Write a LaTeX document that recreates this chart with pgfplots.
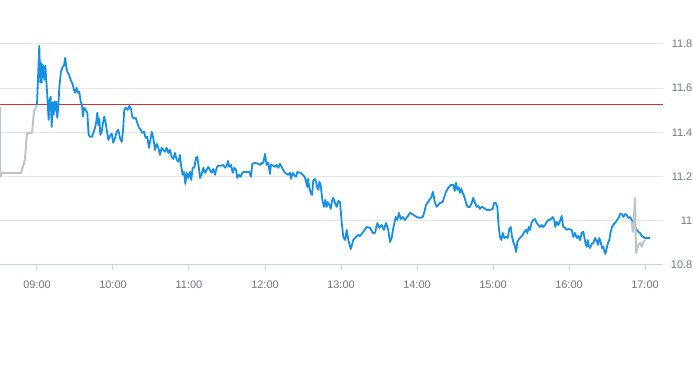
\documentclass[border=0pt]{standalone}
\usepackage{fontspec}
\setmainfont{Liberation Sans}
\usepackage{pgfplots}
\pgfplotsset{compat=1.18}
\definecolor{blueline}{RGB}{22,144,228}
\definecolor{grayline}{RGB}{188,197,204}
\definecolor{gridc}{RGB}{230,230,230}
\definecolor{axisc}{RGB}{204,214,226}
\definecolor{redl}{RGB}{208,52,52}
\definecolor{lab}{RGB}{112,120,132}
\begin{document}
\begin{tikzpicture}
\useasboundingbox (0bp,0bp) rectangle (693bp,365bp);
\begin{axis}[
  at={(0bp,100bp)}, anchor=south west, scale only axis,
  width=663bp, height=243.1bp,
  xmin=-29.2, xmax=494.2, ymin=10.8, ymax=11.9,
  separate axis lines,
  axis x line*=bottom,
  axis y line*=right,
  y axis line style={draw=none},
  x axis line style={draw=axisc, line width=1bp},
  xtick={0,60,120,180,240,300,360,420,480},
  xticklabels={09:00,10:00,11:00,12:00,13:00,14:00,15:00,16:00,17:00},
  xtick style={draw=axisc, line width=1bp},
  tick align=outside, major tick length=5bp,
  ytick={10.8,11,11.2,11.4,11.6,11.8},
  yticklabels={10.8,11,11.2,11.4,11.6,11.8},
  ytick style={draw=none},
  ymajorgrids,
  grid style={draw=gridc, line width=1bp},
  xticklabel style={font=\fontsize{11}{13}\selectfont, text=lab, anchor=north, inner sep=0pt, yshift=-10.5bp},
  yticklabel style={font=\fontsize{11}{13}\selectfont, text=lab, anchor=east, inner sep=0pt, xshift=24.5bp},
]
\addplot[redl, line width=1bp] coordinates {(-29.2,11.528) (494.2,11.528)};
\addplot[grayline, line width=2bp, line join=round] coordinates {
(-29.2,11.516) (-29.0,11.199) (-27.6,11.217) (-12.6,11.217) (-9.5,11.276) (-7.9,11.398) (-3.9,11.398) (-2.4,11.493) (0,11.525)
};
\addplot[blueline, line width=1.8bp, line join=round] coordinates {
(0.0,11.525) (1.8,11.792) (2.6,11.625) (3.2,11.715) (3.7,11.625) (4.2,11.706) (5.0,11.697) (5.8,11.638) (6.6,11.702) (7.3,11.638)
(8.1,11.570) (9.2,11.457) (10.0,11.548) (10.8,11.561) (11.6,11.425) (12.4,11.534) (13.2,11.480) (13.7,11.539) (14.4,11.502) (15.2,11.539)
(16.0,11.466) (16.8,11.516) (17.6,11.602) (18.9,11.674) (20.3,11.697) (21.3,11.702) (22.3,11.738) (23.1,11.697) (23.9,11.674) (25.3,11.661)
(26.6,11.638) (28.2,11.616) (29.2,11.593) (30.2,11.579) (31.3,11.602) (32.4,11.579) (33.4,11.584) (34.5,11.539) (35.5,11.525) (36.3,11.471)
(37.1,11.511) (38.4,11.502) (39.7,11.489) (40.8,11.389) (41.8,11.380) (43.4,11.380) (44.8,11.403) (45.8,11.421) (46.8,11.448) (47.6,11.489)
(48.4,11.434) (49.2,11.462) (50.0,11.389) (51.1,11.403) (52.1,11.443) (53.1,11.471) (54.2,11.443) (55.3,11.403) (56.3,11.366) (57.6,11.385)
(59.0,11.394) (60.2,11.353) (61.6,11.375) (62.9,11.403) (64.2,11.412) (65.5,11.375) (66.9,11.357) (68.1,11.421) (68.9,11.502) (70.3,11.511)
(71.6,11.502) (72.9,11.520) (74.2,11.507) (75.2,11.471) (76.6,11.462) (77.9,11.466) (79.2,11.443) (80.5,11.421) (81.9,11.412) (83.1,11.398)
(84.5,11.403) (85.8,11.375) (87.1,11.380) (88.4,11.330) (89.8,11.375) (90.6,11.403) (91.8,11.375) (93.2,11.321) (94.5,11.348) (95.8,11.330)
(97.1,11.298) (98.4,11.330) (99.7,11.321) (101.1,11.312) (102.4,11.330) (103.7,11.307) (105.0,11.321) (106.3,11.289) (107.6,11.280) (108.9,11.307)
(110.3,11.276) (111.6,11.267) (112.9,11.298) (113.7,11.253) (115.0,11.208) (116.1,11.221) (117.1,11.167) (118.2,11.217) (119.4,11.194) (120.8,11.221)
(121.8,11.185) (122.9,11.240) (124.2,11.240) (125.5,11.285) (126.6,11.289) (127.7,11.244) (128.7,11.194) (130.0,11.212) (131.3,11.240) (132.6,11.217)
(134.0,11.230) (135.2,11.244) (136.6,11.230) (137.9,11.217) (139.2,11.235) (140.5,11.208) (141.9,11.240) (143.1,11.249) (145.8,11.249) (147.1,11.253)
(148.4,11.240) (149.8,11.249) (150.8,11.271) (151.8,11.244) (153.2,11.253) (154.5,11.217) (155.8,11.240) (157.1,11.230) (158.1,11.194) (159.5,11.208)
(160.8,11.199) (162.1,11.217) (163.4,11.221) (167.6,11.221) (168.9,11.199) (170.0,11.258) (172.1,11.262) (174.7,11.258) (176.1,11.253) (177.4,11.262)
(178.7,11.262) (180.0,11.303) (181.3,11.253) (182.6,11.262) (183.9,11.212) (184.7,11.253) (186.6,11.249) (187.9,11.244) (189.2,11.253) (190.5,11.240)
(191.8,11.258) (194.4,11.230) (195.8,11.217) (198.4,11.208) (199.7,11.217) (200.5,11.190) (201.9,11.217) (202.9,11.208) (204.5,11.199) (205.5,11.221)
(208.2,11.217) (209.8,11.208) (211.3,11.199) (212.4,11.176) (213.4,11.153) (213.9,11.190) (215.0,11.149) (216.1,11.126) (217.1,11.117) (218.1,11.181)
(219.2,11.190) (220.3,11.176) (221.3,11.149) (222.1,11.140) (222.9,11.176) (224.0,11.162) (224.8,11.117) (225.6,11.085) (226.6,11.063) (227.6,11.095)
(228.7,11.063) (229.5,11.085) (230.8,11.072) (231.9,11.054) (232.9,11.090) (233.9,11.104) (235.3,11.081) (236.6,11.063) (237.9,11.090) (239.2,11.085)
(240.6,10.990) (241.8,10.927) (243.2,10.913) (244.5,10.959) (245.8,10.913) (247.7,10.872) (249.7,10.913) (251.8,10.927) (253.7,10.936) (255.0,10.931)
(257.6,10.950) (260.3,10.972) (262.9,10.968) (265.0,10.945) (266.8,10.945) (268.7,10.990) (270.2,10.968) (272.1,10.981) (273.9,10.959) (275.5,10.990)
(277.3,10.959) (278.7,10.904) (280.0,10.922) (281.3,10.968) (283.2,11.017) (284.5,11.004) (285.8,11.036) (287.1,11.008) (288.7,11.017) (290.5,11.004)
(292.3,11.017) (294.5,11.036) (297.1,11.027) (299.8,11.017) (302.4,11.013) (304.5,11.017) (305.8,11.040) (307.1,11.072) (308.4,11.081) (309.7,11.095)
(311.1,11.104) (312.6,11.131) (314.0,11.085) (315.6,11.063) (316.8,11.072) (318.2,11.081) (320.3,11.085) (321.3,11.104) (322.9,11.131) (324.7,11.149)
(326.6,11.162) (328.7,11.162) (329.8,11.135) (330.8,11.172) (331.8,11.140) (332.9,11.153) (333.9,11.126) (335.0,11.144) (336.1,11.126) (337.1,11.113)
(338.7,11.081) (340.0,11.063) (341.8,11.063) (343.2,11.081) (344.4,11.104) (345.8,11.081) (347.1,11.063) (348.4,11.067) (349.7,11.054) (351.1,11.063)
(352.9,11.058) (355.0,11.049) (357.6,11.049) (359.8,11.054) (360.8,11.081) (362.1,11.081) (363.4,11.063) (364.5,10.972) (365.5,10.927) (366.6,10.913)
(367.7,10.945) (368.9,10.922) (370.3,10.927) (371.6,10.922) (372.9,10.963) (374.0,10.972) (374.8,10.936) (376.0,10.904) (377.4,10.882) (378.2,10.859)
(379.2,10.904) (380.5,10.918) (382.1,10.927) (383.4,10.936) (384.7,10.950) (386.1,10.959) (387.1,10.945) (388.2,10.972) (389.2,10.959) (390.6,10.995)
(391.8,11.004) (393.2,11.008) (394.5,10.990) (395.8,10.981) (397.1,10.972) (398.4,10.981) (399.7,10.972) (401.1,10.981) (402.4,10.995) (403.7,11.004)
(405.0,11.004) (407.1,11.017) (408.2,11.004) (409.2,10.972) (410.3,10.995) (411.6,10.981) (412.9,10.999) (414.2,11.022) (415.5,10.972) (416.8,10.968)
(418.2,10.959) (419.5,10.963) (422.1,10.959) (423.4,10.927) (424.7,10.945) (426.1,10.922) (427.3,10.931) (428.7,10.913) (430.0,10.945) (431.3,10.950)
(432.1,10.927) (432.9,10.900) (434.0,10.882) (434.8,10.913) (435.6,10.886) (436.6,10.877) (437.9,10.895) (439.2,10.900) (440.5,10.922) (441.9,10.909)
(442.9,10.891) (443.9,10.922) (445.0,10.904) (446.1,10.877) (447.1,10.882) (447.9,10.863) (448.7,10.850) (449.8,10.877) (450.8,10.900) (451.8,10.913)
(452.9,10.950) (453.9,10.972) (456.1,10.990) (457.1,10.995) (458.1,11.004) (459.5,11.017) (460.3,11.031) (461.6,11.031) (462.9,11.017) (464.2,11.031)
(465.6,11.027) (466.8,11.013) (468.2,11.017) (469.5,11.004) (470.8,10.990) (472.1,10.972) (473.5,10.959) (474.7,10.950) (476.1,10.945) (477.4,10.931)
(478.6,10.927) (480.0,10.922) (483.9,10.922)
};
\addplot[grayline, line width=2bp, line join=round] coordinates {
(469.6,10.995) (470.3,10.951) (471.0,10.975) (472.1,11.104) (472.9,10.854) (474.7,10.891) (476.1,10.900) (477.4,10.882) (478.6,10.904) (480.0,10.913)
};
\end{axis}
\end{tikzpicture}
\end{document}
